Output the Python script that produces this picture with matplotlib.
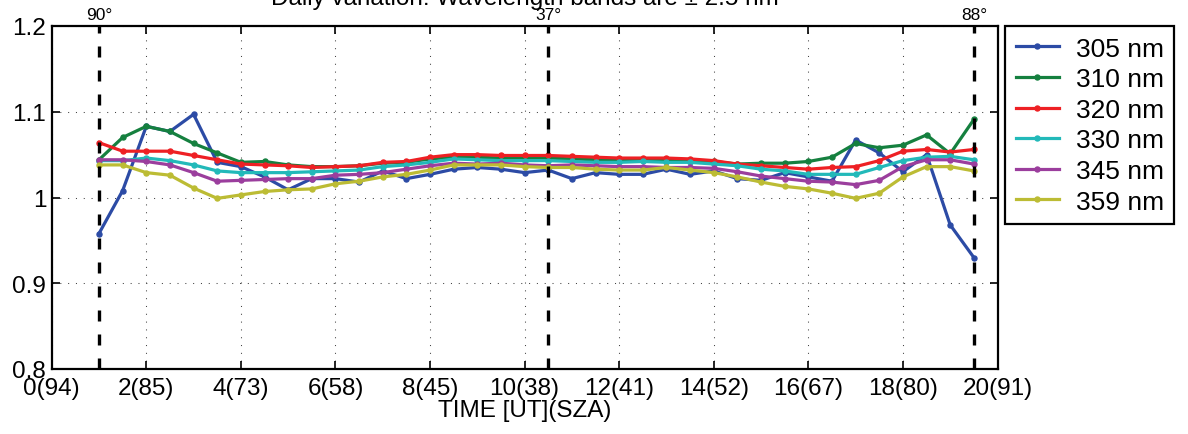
import matplotlib
matplotlib.use("Agg")
import matplotlib.pyplot as plt

plt.rcParams['font.family'] = ['Liberation Sans', 'DejaVu Sans']

# measurement times (UT hours), one every half hour
hours = [1.0, 1.5, 2.0, 2.5, 3.0, 3.5, 4.0, 4.5, 5.0, 5.5, 6.0, 6.5, 7.0,
         7.5, 8.0, 8.5, 9.0, 9.5, 10.0, 10.5, 11.0, 11.5, 12.0, 12.5, 13.0,
         13.5, 14.0, 14.5, 15.0, 15.5, 16.0, 16.5, 17.0, 17.5, 18.0, 18.5,
         19.0, 19.5]

r305 = [0.958, 1.008, 1.083, 1.077, 1.097, 1.041, 1.036, 1.024, 1.009, 1.022,
        1.022, 1.018, 1.031, 1.022, 1.027, 1.033, 1.035, 1.033, 1.029, 1.032,
        1.022, 1.029, 1.027, 1.027, 1.033, 1.027, 1.031, 1.022, 1.020, 1.029,
        1.024, 1.019, 1.067, 1.052, 1.030, 1.050, 0.968, 0.930]
r310 = [1.044, 1.070, 1.083, 1.077, 1.063, 1.052, 1.041, 1.042, 1.038, 1.036,
        1.036, 1.037, 1.040, 1.041, 1.045, 1.047, 1.047, 1.046, 1.046, 1.046,
        1.045, 1.044, 1.043, 1.044, 1.044, 1.043, 1.042, 1.039, 1.040, 1.040,
        1.042, 1.047, 1.063, 1.058, 1.061, 1.073, 1.051, 1.091]
r320 = [1.064, 1.054, 1.054, 1.054, 1.049, 1.044, 1.039, 1.038, 1.037, 1.035,
        1.036, 1.037, 1.041, 1.042, 1.047, 1.050, 1.050, 1.049, 1.049, 1.049,
        1.048, 1.047, 1.046, 1.046, 1.046, 1.045, 1.043, 1.039, 1.037, 1.035,
        1.033, 1.035, 1.036, 1.043, 1.054, 1.056, 1.053, 1.056]
r330 = [1.043, 1.043, 1.046, 1.043, 1.038, 1.031, 1.029, 1.029, 1.029, 1.030,
        1.031, 1.032, 1.036, 1.038, 1.041, 1.045, 1.044, 1.043, 1.043, 1.043,
        1.042, 1.041, 1.041, 1.042, 1.041, 1.041, 1.039, 1.037, 1.033, 1.031,
        1.027, 1.027, 1.027, 1.035, 1.043, 1.047, 1.048, 1.044]
r345 = [1.044, 1.044, 1.042, 1.038, 1.029, 1.019, 1.020, 1.021, 1.022, 1.022,
        1.026, 1.027, 1.029, 1.033, 1.037, 1.040, 1.039, 1.040, 1.038, 1.037,
        1.038, 1.037, 1.036, 1.036, 1.035, 1.035, 1.034, 1.030, 1.025, 1.022,
        1.019, 1.018, 1.015, 1.020, 1.036, 1.044, 1.044, 1.039]
r359 = [1.038, 1.038, 1.029, 1.026, 1.011, 0.999, 1.003, 1.007, 1.009, 1.010,
        1.016, 1.019, 1.024, 1.027, 1.032, 1.038, 1.038, 1.038, 1.036, 1.035,
        1.035, 1.033, 1.032, 1.032, 1.035, 1.032, 1.029, 1.024, 1.018, 1.013,
        1.010, 1.005, 0.999, 1.005, 1.024, 1.036, 1.036, 1.031]

bands = ['305 nm', '310 nm', '320 nm', '330 nm', '345 nm', '359 nm']
colors = ['#2c4ba5', '#15803f', '#ee2024', '#22b9b9', '#9b3e9d', '#bcbc34']

# solar zenith angle markers (sunrise, noon, sunset)
sza_hours = [1.0, 10.5, 19.5]
sza_labels = ['90°', '37°', '88°']

xticks = [0, 2, 4, 6, 8, 10, 12, 14, 16, 18, 20]
xticklabels = ['0(94)', '2(85)', '4(73)', '6(58)', '8(45)', '10(38)',
               '12(41)', '14(52)', '16(67)', '18(80)', '20(91)']
yticks = [0.8, 0.9, 1.0, 1.1, 1.2]
yticklabels = ['0.8', '0.9', '1', '1.1', '1.2']

W, H = 1188, 435
fig = plt.figure(figsize=(W / 100, H / 100), dpi=100)
ax = fig.add_axes([51.7 / W, 1 - 370 / H, (997.5 - 51.7) / W, (370 - 27) / H])

series = [r305, r310, r320, r330, r345, r359]
for vals, lab, col in zip(series, bands, colors):
    ax.plot(hours, vals, '-o', color=col, lw=2.3, ms=3.6, label=lab)

for xh, lab in zip(sza_hours, sza_labels):
    ax.plot([xh, xh], [0.8, 1.2], color='black', lw=2.4,
            linestyle=(0, (3.3, 3.9)), zorder=5)
    ax.annotate(lab, xy=(xh, 1.2), xytext=(0, 3), textcoords='offset points',
                ha='center', va='bottom', fontsize=12.5)

ax.set_xlim(0, 20)
ax.set_ylim(0.8, 1.2)
ax.set_xticks(xticks)
ax.set_xticklabels(xticklabels)
ax.set_yticks(yticks)
ax.set_yticklabels(yticklabels)
ax.tick_params(direction='in', length=6, width=1.2, labelsize=17.5,
               top=True, right=True)
ax.tick_params(axis='x', pad=6)
ax.tick_params(axis='y', pad=4)
ax.grid(True, color='#444444', linestyle=(0, (1, 6.5)), lw=0.75)
for sp in ax.spines.values():
    sp.set_linewidth(1.6)

ax.set_xlabel('TIME [UT](SZA)', fontsize=17.5, labelpad=0)
fig.text((51.7 + 997.5) / 2 / W, 1 - 5 / H,
         'Daily variation: Wavelength bands are ± 2.5 nm',
         ha='center', va='baseline', fontsize=17.5)

leg = fig.legend(loc='upper left', bbox_to_anchor=(1005 / W, 1 - 27 / H),
                 borderaxespad=0, fontsize=19, fancybox=False,
                 edgecolor='black', framealpha=1, handlelength=1.63,
                 handletextpad=0.65, labelspacing=0.25, borderpad=0.4)
leg.get_frame().set_linewidth(1.6)

fig.savefig('out.png', dpi=100)
